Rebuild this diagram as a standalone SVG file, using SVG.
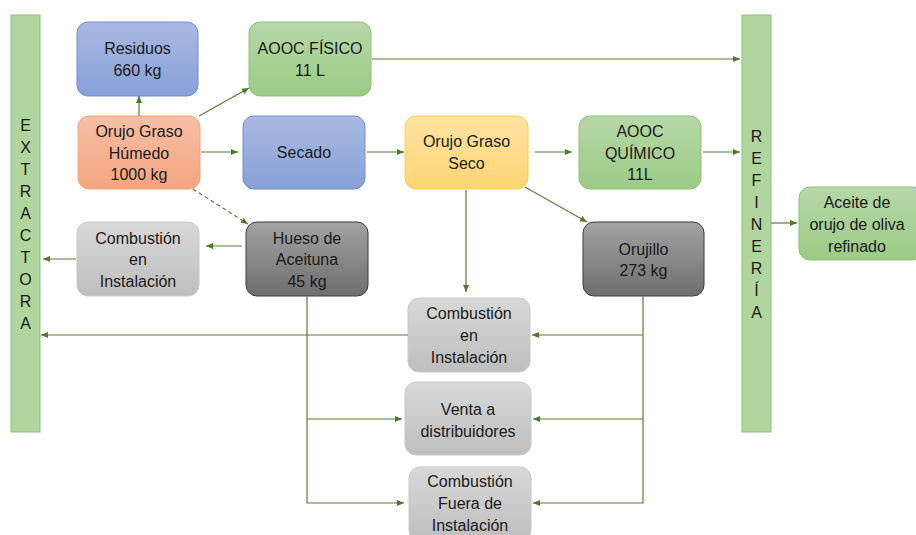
<svg xmlns="http://www.w3.org/2000/svg" width="916" height="535" viewBox="0 0 916 535">
<defs>
<linearGradient id="gBlue" x1="0" y1="0" x2="0" y2="1"><stop offset="0" stop-color="#aab9e2"/><stop offset="1" stop-color="#87a0d8"/></linearGradient>
<linearGradient id="gGreen" x1="0" y1="0" x2="0" y2="1"><stop offset="0" stop-color="#b6d7a8"/><stop offset="1" stop-color="#9ccb85"/></linearGradient>
<linearGradient id="gOrange" x1="0" y1="0" x2="0" y2="1"><stop offset="0" stop-color="#f6bfa6"/><stop offset="1" stop-color="#f4a47f"/></linearGradient>
<linearGradient id="gYellow" x1="0" y1="0" x2="0" y2="1"><stop offset="0" stop-color="#ffe3a3"/><stop offset="1" stop-color="#ffd574"/></linearGradient>
<linearGradient id="gLight" x1="0" y1="0" x2="0" y2="1"><stop offset="0" stop-color="#d8d8d8"/><stop offset="1" stop-color="#bebebe"/></linearGradient>
<linearGradient id="gDark" x1="0" y1="0" x2="0" y2="1"><stop offset="0" stop-color="#a3a3a3"/><stop offset="1" stop-color="#6e6e6e"/></linearGradient>
<marker id="ah" markerWidth="8" markerHeight="8" refX="7" refY="4" orient="auto" markerUnits="userSpaceOnUse"><path d="M0,1 L7,4 L0,7 Z" fill="#4e7a2c"/></marker>
</defs>
<style>
.t{font-family:"Liberation Sans",Arial,sans-serif;font-size:16px;fill:#1a1a1a;text-anchor:middle}
.blue{fill:url(#gBlue);stroke:#6f8fd0;stroke-width:1}
.green{fill:url(#gGreen);stroke:#8fc177;stroke-width:1}
.orange{fill:url(#gOrange);stroke:#f4a57f;stroke-width:1}
.yellow{fill:url(#gYellow);stroke:#ffcd4a;stroke-width:1}
.light{fill:url(#gLight);stroke:#c9c9c9;stroke-width:1}
.dark{fill:url(#gDark);stroke:#3c3c3c;stroke-width:1}
.bar{fill:#b1d59f;stroke:#8fc177;stroke-width:1}
.c{fill:none;stroke:#577f3a;stroke-width:1.2}
</style>

<g id="extractora">
<rect class="bar" x="11" y="15" width="29" height="417"/>
<g class="t">
<text x="25.5" y="131">E</text><text x="25.5" y="153">X</text><text x="25.5" y="175">T</text><text x="25.5" y="197">R</text><text x="25.5" y="219">A</text><text x="25.5" y="241">C</text><text x="25.5" y="263">T</text><text x="25.5" y="285">O</text><text x="25.5" y="307">R</text><text x="25.5" y="329">A</text>
</g>
</g>

<g id="refineria">
<rect class="bar" x="742" y="15" width="29" height="417"/>
<g class="t">
<text x="756.5" y="142">R</text><text x="756.5" y="164">E</text><text x="756.5" y="186">F</text><text x="756.5" y="208">I</text><text x="756.5" y="230">N</text><text x="756.5" y="252">E</text><text x="756.5" y="274">R</text><text x="756.5" y="296">Í</text><text x="756.5" y="318">A</text>
</g>
</g>

<g id="residuos"><rect class="blue" x="77" y="22" width="121" height="74" rx="11"/><text class="t" x="137.5" y="54">Residuos</text><text class="t" x="137.5" y="76">660 kg</text></g>
<g id="aooc-fisico"><rect class="green" x="249" y="22" width="122" height="74" rx="11"/><text class="t" x="310" y="54">AOOC FÍSICO</text><text class="t" x="310" y="76">11 L</text></g>
<g id="orujo-humedo"><rect class="orange" x="78" y="116" width="122" height="73" rx="11"/><text class="t" x="139" y="137">Orujo Graso</text><text class="t" x="139" y="159">Húmedo</text><text class="t" x="139" y="180">1000 kg</text></g>
<g id="secado"><rect class="blue" x="243" y="116" width="122" height="73" rx="11"/><text class="t" x="304" y="158">Secado</text></g>
<g id="orujo-seco"><rect class="yellow" x="405" y="116" width="123" height="73" rx="11"/><text class="t" x="466.5" y="147">Orujo Graso</text><text class="t" x="466.5" y="169">Seco</text></g>
<g id="aooc-quimico"><rect class="green" x="579" y="116" width="122" height="73" rx="11"/><text class="t" x="640" y="137">AOOC</text><text class="t" x="640" y="159">QUÍMICO</text><text class="t" x="640" y="180">11L</text></g>
<g id="aceite"><rect class="green" x="799" y="187" width="125" height="73" rx="11"/><text class="t" x="857" y="208">Aceite de</text><text class="t" x="857" y="230">orujo de oliva</text><text class="t" x="857" y="252">refinado</text></g>
<g id="combustion-1"><rect class="light" x="77" y="222" width="122" height="74" rx="11"/><text class="t" x="138" y="244">Combustión</text><text class="t" x="138" y="265">en</text><text class="t" x="138" y="287">Instalación</text></g>
<g id="hueso"><rect class="dark" x="246" y="222" width="122" height="74" rx="11"/><text class="t" x="307" y="244">Hueso de</text><text class="t" x="307" y="265">Aceituna</text><text class="t" x="307" y="287">45 kg</text></g>
<g id="orujillo"><rect class="dark" x="583" y="222" width="121" height="74" rx="11"/><text class="t" x="643.5" y="255">Orujillo</text><text class="t" x="643.5" y="276">273 kg</text></g>
<g id="combustion-2"><rect class="light" x="408" y="298" width="122" height="74" rx="11"/><text class="t" x="469" y="319">Combustión</text><text class="t" x="469" y="341">en</text><text class="t" x="469" y="363">Instalación</text></g>
<g id="venta"><rect class="light" x="405" y="382" width="126" height="73" rx="11"/><text class="t" x="468" y="415">Venta a</text><text class="t" x="468" y="437">distribuidores</text></g>
<g id="combustion-3"><rect class="light" x="409" y="467" width="122" height="74" rx="11"/><text class="t" x="470" y="487">Combustión</text><text class="t" x="470" y="509">Fuera de</text><text class="t" x="470" y="531">Instalación</text></g>

<g id="connectors">
<path class="c" d="M139,116 V96" marker-end="url(#ah)"/>
<path class="c" d="M199,116 L249,88" marker-end="url(#ah)"/>
<path class="c" d="M372,59 H740" marker-end="url(#ah)"/>
<path class="c" d="M201,152 H238" marker-end="url(#ah)"/>
<path class="c" d="M367,152 H404" marker-end="url(#ah)"/>
<path class="c" d="M535,152 H572" marker-end="url(#ah)"/>
<path class="c" d="M703,152 H740" marker-end="url(#ah)"/>
<path class="c" d="M193,189 L248,224" stroke-dasharray="4,3" marker-end="url(#ah)"/>
<path class="c" d="M525,187 L587,222" marker-end="url(#ah)"/>
<path class="c" d="M466,190 V292" marker-end="url(#ah)"/>
<path class="c" d="M771,223 H797" marker-end="url(#ah)"/>
<path class="c" d="M242,246 H206" marker-end="url(#ah)"/>
<path class="c" d="M76,259 H43" marker-end="url(#ah)"/>
<path class="c" d="M408,335 H41" marker-end="url(#ah)"/>
<path class="c" d="M307,296 V503 H404" marker-end="url(#ah)"/>
<path class="c" d="M307,419 H402" marker-end="url(#ah)"/>
<path class="c" d="M643,296 V503 H533" marker-end="url(#ah)"/>
<path class="c" d="M643,335 H532" marker-end="url(#ah)"/>
<path class="c" d="M643,419 H533" marker-end="url(#ah)"/>
</g>
</svg>
